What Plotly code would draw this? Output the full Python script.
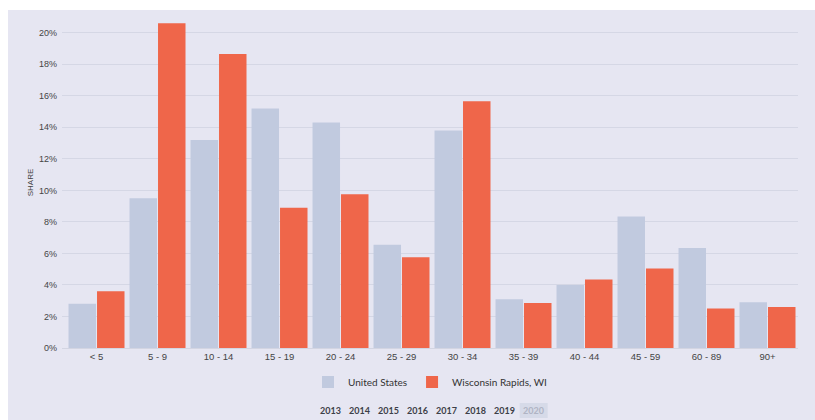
import plotly.graph_objects as go

# Age groups and the share of the population in each
age_groups = ["< 5", "5 - 9", "10 - 14", "15 - 19", "20 - 24", "25 - 29",
              "30 - 34", "35 - 39", "40 - 44", "45 - 59", "60 - 89", "90+"]
us_share = [2.8, 9.5, 13.2, 15.2, 14.3, 6.55, 13.8, 3.1, 4.0, 8.35, 6.35, 2.9]
wi_share = [3.6, 20.6, 18.65, 8.9, 9.75, 5.75, 15.65, 2.85, 4.35, 5.05, 2.5, 2.6]
years = ["2013", "2014", "2015", "2016", "2017", "2018", "2019", "2020"]
selected_year = "2020"

US_COLOR = "#c1cadf"
WI_COLOR = "#ef664a"
PANEL = "#e6e6f2"

W, H = 815, 420
L, R, T, B = 62, 17, 17, 72
pw, ph = W - L - R, H - T - B


def px_x(x):
    return (x - L) / pw


def px_y(y):
    return (H - B - y) / ph


fig = go.Figure()
fig.add_trace(go.Bar(x=age_groups, y=us_share, name="United States",
                     marker=dict(color=US_COLOR, line=dict(width=0))))
fig.add_trace(go.Bar(x=age_groups, y=wi_share, name="Wisconsin Rapids, WI",
                     marker=dict(color=WI_COLOR, line=dict(width=0))))

shapes = [
    # light panel behind the whole chart
    dict(type="rect", xref="paper", yref="paper", layer="below",
         x0=px_x(8), x1=px_x(W + 2), y0=px_y(H + 2), y1=px_y(10),
         fillcolor=PANEL, line=dict(width=0)),
]

annotations = []
x_first, step = 330, 29.1
for i, yr in enumerate(years):
    cx = x_first + step * i
    if yr == selected_year:
        shapes.append(dict(type="rect", xref="paper", yref="paper",
                           x0=px_x(cx - 14), x1=px_x(cx + 14),
                           y0=px_y(418), y1=px_y(403),
                           fillcolor="#d6dae8", line=dict(width=0)))
    annotations.append(dict(
        text=f"<b>{yr}</b>", xref="paper", yref="paper", x=px_x(cx), y=px_y(410.5),
        xanchor="center", yanchor="middle", showarrow=False,
        font=dict(family="Lato", size=9,
                  color="#b0b4c4" if yr == selected_year else "#3d3f48"),
    ))

fig.update_layout(
    width=W, height=H,
    margin=dict(l=L, r=R, t=T, b=B),
    paper_bgcolor="white",
    plot_bgcolor="rgba(0,0,0,0)",
    barmode="group",
    bargap=0.066,
    bargroupgap=0.035,
    showlegend=True,
    legend=dict(orientation="h", x=0.5, xanchor="center", y=px_y(382),
                yanchor="middle", bgcolor="rgba(0,0,0,0)",
                font=dict(family="Lato", size=10, color="#333"),
                itemwidth=30, traceorder="normal"),
    shapes=shapes,
    annotations=annotations,
    xaxis=dict(range=[-0.566, 11.5], showgrid=False, showline=True,
               linecolor="#d3d5e2", linewidth=1, ticks="",
               tickfont=dict(family="Liberation Sans", size=9.5, color="#444")),
    yaxis=dict(range=[0, 21], tickvals=[0, 2, 4, 6, 8, 10, 12, 14, 16, 18, 20],
               ticktext=[f"{v}%" for v in range(0, 21, 2)],
               showgrid=True, gridcolor="#d5d7e5", gridwidth=1,
               zeroline=False, ticks="", ticklabelstandoff=4,
               tickfont=dict(family="Liberation Sans", size=9, color="#444"),
               title=dict(text="SHARE", standoff=4,
                          font=dict(family="Liberation Sans", size=8, color="#444"))),
)

fig.write_html("out.html")
